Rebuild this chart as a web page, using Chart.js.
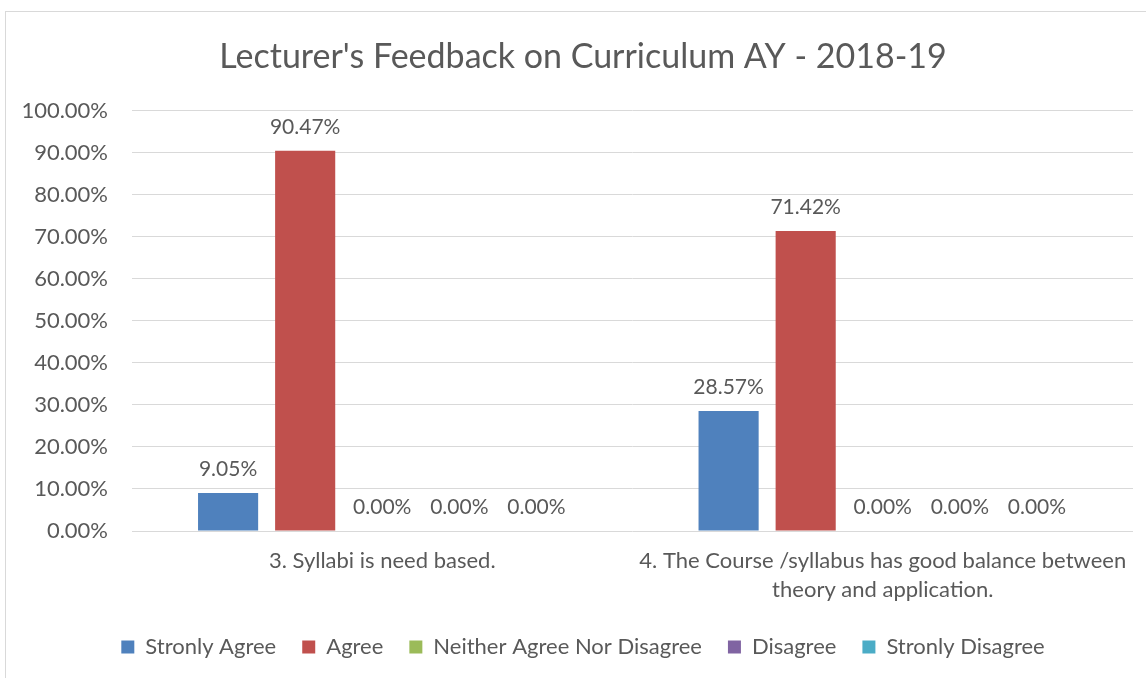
<!DOCTYPE html>
<html>
<head>
<meta charset="utf-8">
<script src="https://cdn.jsdelivr.net/npm/chart.js@4"></script>
<style>
  body { margin: 0; background: #fff; overflow: hidden; }
  #frame { position: absolute; left: 5px; top: 11px; width: 1200px; height: 700px; border: 1px solid #d9d9d9; }
  #wrap { position: absolute; left: 5px; top: 0; width: 1156px; height: 678px; }
</style>
</head>
<body>
<div id="frame"></div>
<div id="wrap"><canvas id="myChart"></canvas></div>
<script>
const categories = [
  "3. Syllabi is need based.",
  ["4. The Course /syllabus has good balance between", "theory and application."]
];
const seriesNames = ["Stronly Agree", "Agree", "Neither Agree Nor Disagree", "Disagree", "Stronly Disagree"];
const stronglyAgree = [9.05, 28.57];
const agree = [90.47, 71.42];
const neither = [0, 0];
const disagree = [0, 0];
const stronglyDisagree = [0, 0];
const colors = ['#4f81bd', '#c0504d', '#9bbb59', '#8064a2', '#4bacc6'];

const textColor = '#595959';
const font = "Lato, 'Open Sans', sans-serif";

// value labels above each bar
const barLabels = {
  id: 'barLabels',
  afterDatasetsDraw(chart) {
    const ctx = chart.ctx;
    ctx.save();
    ctx.font = "21px " + font;
    ctx.fillStyle = textColor;
    ctx.textAlign = 'center';
    ctx.textBaseline = 'middle';
    chart.data.datasets.forEach((ds, i) => {
      chart.getDatasetMeta(i).data.forEach((bar, j) => {
        ctx.fillText(ds.data[j].toFixed(2) + '%', bar.x, bar.y - 24);
      });
    });
    ctx.restore();
  }
};

const allSeries = [stronglyAgree, agree, neither, disagree, stronglyDisagree];

new Chart(document.getElementById("myChart"), {
  type: 'bar',
  data: {
    labels: categories,
    datasets: allSeries.map((d, i) => ({
      label: seriesNames[i],
      data: d,
      backgroundColor: colors[i],
      barPercentage: 0.78,
      categoryPercentage: 0.77
    }))
  },
  options: {
    responsive: true,
    maintainAspectRatio: false,
    animation: false,
    layout: { padding: { left: 0, right: 0, top: 0, bottom: 10 } },
    plugins: {
      title: {
        display: true,
        text: "Lecturer's Feedback on Curriculum AY - 2018-19",
        color: textColor,
        font: { family: font, size: 34, weight: 'normal' },
        padding: { top: 37, bottom: 33 }
      },
      legend: {
        position: 'bottom',
        labels: {
          color: textColor,
          boxWidth: 13,
          boxHeight: 13,
          padding: 26,
          font: { family: font, size: 22 }
        }
      },
      tooltip: { enabled: false }
    },
    scales: {
      x: {
        grid: { display: false, drawTicks: false },
        border: { display: false },
        ticks: {
          color: textColor,
          font: { family: font, size: 22, lineHeight: 1.3 },
          padding: 16,
          maxRotation: 0,
          autoSkip: false
        },
        afterFit(scale) { scale.height = 79; }
      },
      y: {
        min: 0,
        max: 100,
        grid: { color: '#d9d9d9', drawTicks: false },
        border: { display: false },
        ticks: {
          stepSize: 10,
          color: textColor,
          font: { family: font, size: 22 },
          padding: 24,
          callback: v => v.toFixed(2) + '%'
        },
        afterFit(scale) { scale.width = 127; }
      },
      // empty spacer on the right so title/legend centre on the full frame
      yRight: {
        position: 'right',
        grid: { display: false, drawTicks: false },
        border: { display: false },
        ticks: { display: false },
        afterFit(scale) { scale.width = 28; }
      }
    }
  },
  plugins: [barLabels]
});
</script>
</body>
</html>
